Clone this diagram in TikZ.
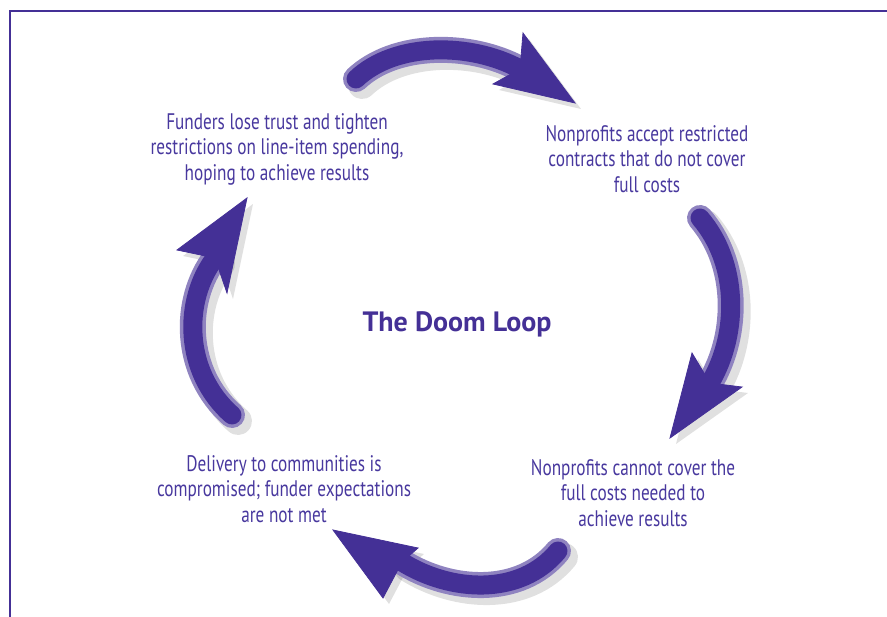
\documentclass[tikz,border=0pt]{standalone}
\usepackage{fontspec}
\setmainfont{PT Sans}[FakeStretch=0.765]
\newfontfamily\titlefont{PT Sans}[FakeStretch=1.0]
\definecolor{doom}{RGB}{68,48,150}
\definecolor{doomtext}{RGB}{72,56,158}

\tikzset{
  loop text/.style={text=doomtext, align=center, font=\fontsize{22.5}{25.5}\selectfont},
  loop shadow/.style={line width=28pt, line cap=round, draw=black, opacity=0.12},
  loop shaft/.style={line width=26pt, line cap=round, draw=doom!60!white},
  loop core/.style={line width=19pt, line cap=round, draw=doom},
  loop head/.style={fill=doom, draw=doom, line width=0.8pt, line join=miter}
}

% one curved arrow: tail, control 1, control 2, notch, wing, tip, wing
\newcommand{\doomarrow}[7]{
  \draw[loop shadow, shift={(6,6)}] #1 .. controls #2 and #3 .. #4;
  \fill[black, opacity=0.12, shift={(6,6)}] #5 -- #6 -- #7 -- #4 -- cycle;
  \draw[loop shaft] #1 .. controls #2 and #3 .. #4;
  \draw[loop core] #1 .. controls #2 and #3 .. #4;
  \filldraw[loop head] #5 -- #6 -- #7 -- #4 -- cycle;
}

\begin{document}
\begin{tikzpicture}[x=1pt, y=-1pt]
    \useasboundingbox (0,0) rectangle (887,617);
    % frame
    \draw[doom, line width=2pt] (887,11) -- (10,11) -- (10,617);

    % the four steps
    \node[loop text] (funders) at (277,149)
        {Funders lose trust and tighten\\restrictions on line-item spending,\\hoping to achieve results};
    \node[loop text] (accept) at (647,159)
        {Nonprofits accept restricted\\contracts that do not cover\\full costs};
    \node[loop text] (cannot) at (633,493)
        {Nonprofits cannot cover the\\full costs needed to\\achieve results};
    \node[loop text] (delivery) at (284,489)
        {Delivery to communities is\\compromised; funder expectations\\are not met};
    \node[text=doom, font=\titlefont\fontsize{28}{30}\bfseries] (doom) at (457,324) {The Doom Loop};

    % arrows between the steps
    \doomarrow{(356,79)}{(395,42)}{(470,42)}{(520,69)}{(523,33)}{(575,103)}{(493,84)}
    \doomarrow{(700,218)}{(738,262)}{(740,332)}{(710,383)}{(742,387)}{(670,438)}{(692,353)}
    \doomarrow{(558,551)}{(520,597)}{(450,592)}{(402,562)}{(383,598)}{(333,530)}{(418,548)}
    \doomarrow{(232,415)}{(183,372)}{(183,300)}{(215,258)}{(177,250)}{(247,198)}{(227,293)}
\end{tikzpicture}
\end{document}
